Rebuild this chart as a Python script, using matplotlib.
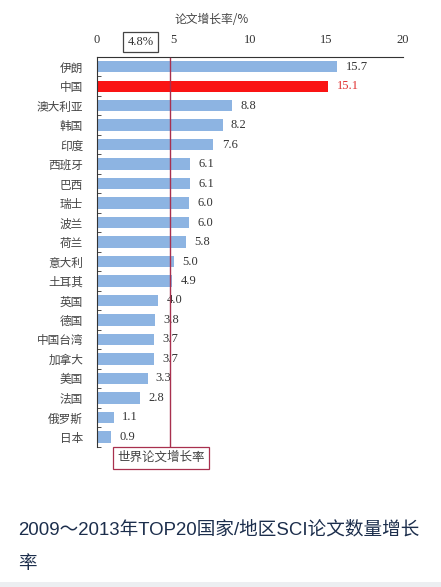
import matplotlib
matplotlib.use('Agg')
import matplotlib.pyplot as plt
import matplotlib.transforms as mtransforms
from matplotlib.patches import Rectangle
import numpy as np

plt.rcParams['font.family'] = ['Noto Sans CJK SC', 'DejaVu Sans']

countries = ['伊朗', '中国', '澳大利亚', '韩国', '印度', '西班牙', '巴西', '瑞士', '波兰', '荷兰',
             '意大利', '土耳其', '英国', '德国', '中国台湾', '加拿大', '美国', '法国', '俄罗斯', '日本']
values = [15.7, 15.1, 8.8, 8.2, 7.6, 6.1, 6.1, 6.0, 6.0, 5.8,
          5.0, 4.9, 4.0, 3.8, 3.7, 3.7, 3.3, 2.8, 1.1, 0.9]
highlight = '中国'
world_rate = 4.8
xticks = [0, 5, 10, 15, 20]
caption = ['2009～2013年TOP20国家/地区SCI论文数量增长', '率']

blue = '#8db4e2'
red = '#fa1414'
line_red = '#a8304e'

fig = plt.figure(figsize=(4.41, 5.87), dpi=100)
ax = fig.add_axes([0.22, 0.2385, 0.694, 0.6645])

y = np.arange(len(countries))
colors = [red if c == highlight else blue for c in countries]
ax.barh(y, values, height=0.58, color=colors, zorder=2)

for yi, v, c in zip(y, values, countries):
    ax.annotate(f'{v:.1f}', (v, yi), xytext=(6, 0), textcoords='offset points',
                va='center', ha='left', fontsize=9, family='Liberation Serif',
                color='#e03030' if c == highlight else '#333333')

ax.set_xlim(0, 20)
ax.set_ylim(19.52, -0.47)
ax.set_yticks(y)
ax.set_yticklabels(countries, fontsize=8.4, color='#444444')
ax.set_yticks(np.arange(-0.5, len(countries), 1), minor=True)
ax.tick_params(axis='y', which='major', length=0, pad=10)
ax.tick_params(axis='y', which='minor', length=3, direction='in', color='#333333')

ax.xaxis.tick_top()
ax.set_xticks(xticks)
ax.set_xticklabels([str(t) for t in xticks], fontsize=9, family='Liberation Serif', color='#333333')
ax.tick_params(axis='x', length=0, pad=8)

for side in ['right', 'bottom']:
    ax.spines[side].set_visible(False)
ax.spines['top'].set_color('#333333')
ax.spines['left'].set_color('#333333')

# world growth rate line
ax.plot([world_rate, world_rate], [-0.47, 19.6], color=line_red, lw=1.0, clip_on=False, zorder=3)
ax.text(4.18, 20.07, '世界论文增长率', ha='center', va='center', fontsize=9, color='#444444',
        bbox=dict(boxstyle='square,pad=0.35', fc='white', ec=line_red, lw=0.9))

trans = mtransforms.blended_transform_factory(ax.transData, ax.transAxes)
ax.text(2.84, 1.038, '4.8%', transform=trans, ha='center', va='center', fontsize=9,
        family='Liberation Serif', color='#333333',
        bbox=dict(boxstyle='square,pad=0.35', fc='white', ec='#444444', lw=0.9))

fig.text(212 / 441, 0.966, '论文增长率/%', ha='center', va='center', fontsize=8.5, color='#444444')

for line, yy in zip(caption, [0.097, 0.0375]):
    fig.text(18 / 441, yy, line, ha='left', va='center', fontsize=13.4, color='#1c2e4c',
             family=['Liberation Sans', 'Noto Sans CJK SC'])

fig.patches.append(Rectangle((0, 0), 1, 5 / 587, transform=fig.transFigure,
                             facecolor='#eceef1', edgecolor='none'))

fig.savefig('out.png', dpi=100)
